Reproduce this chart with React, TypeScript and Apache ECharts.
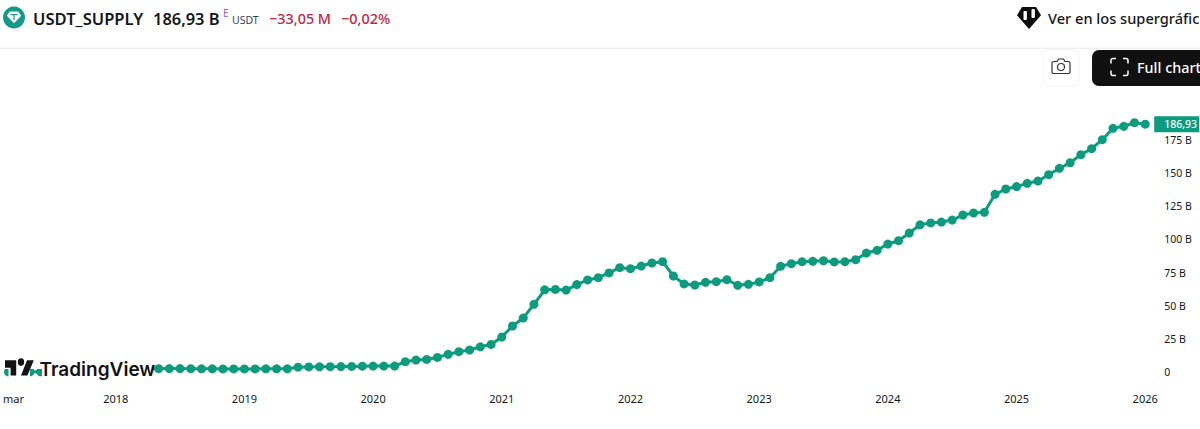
import React, { useEffect, useRef } from "react";
import * as echarts from "echarts";

const months: string[] = [];
const monthNames = ["ene", "feb", "mar", "abr", "may", "jun", "jul", "ago", "sep", "oct", "nov", "dic"];
for (let y = 2017, m = 2; y < 2026 || m === 0; ) {
  months.push(`${y}-${String(m + 1).padStart(2, "0")}`);
  m++;
  if (m === 12) { m = 0; y++; }
  if (y === 2026 && m === 1) break;
}

const supply2017to2018 = [0.05, 0.06, 0.1, 0.15, 0.3, 0.4, 0.44, 0.5, 0.7, 1.2, 1.6, 2.2, 2.3, 2.4];
const supply2018to2020 = [2.5, 2.6, 2.6, 2.5, 2.4, 2.4, 2.3, 2.3, 2.3, 2.3, 2.4, 2.4, 2.4, 3.6, 3.8, 3.9, 4.0, 4.1, 4.2, 4.4, 4.5];
const supply2020to2022 = [4.5, 4.5, 7.8, 9, 9.5, 11, 13.3, 15.3, 16.6, 19, 20.8, 26.4, 34.7, 40.7, 51, 62, 62.3, 61.8, 65.9, 69.4, 71.1, 74.7, 78.7, 77.9, 79.9, 82.2, 83.2];
const supply2022to2024 = [72.4, 66.4, 65.6, 67.6, 68.1, 69.6, 65.4, 66.1, 67.9, 71.1, 79.7, 81.7, 83.2, 83.5, 83.9, 83, 83.2, 84.7, 89.7, 91.8, 96.5, 99, 104.8];
const supply2024to2026 = [111, 112.4, 113.1, 114.6, 118.4, 119.9, 120.4, 134, 138, 139.8, 142.3, 144, 148.8, 153.6, 157.8, 163.9, 168.4, 175.2, 183.8, 185.3, 188, 186.93];
const supply = [...supply2017to2018, ...supply2018to2020, ...supply2020to2022, ...supply2022to2024, ...supply2024to2026];

const GREEN = "#0c9b7e";
const RED = "#c4263f";
const INK = "#131722";
const FONT = '"Noto Sans", sans-serif';

echarts.graphic.registerShape(
  "tvGlyph",
  echarts.graphic.extendPath("M14 6H0v8h7v8h7V6Zm14 16h-8l7.5-16H36l-8 16Z M24 8a4 4 0 1 1-8 0a4 4 0 1 1 8 0Z", {})
);
echarts.graphic.registerShape(
  "gem",
  echarts.graphic.extendPath("M5 0H19L24 7L12 19L0 7Z", {})
);
echarts.graphic.registerShape(
  "shield",
  echarts.graphic.extendPath("M5 0H19L24 7.5L12 20L0 7.5Z", {})
);
echarts.graphic.registerShape(
  "camera",
  echarts.graphic.extendPath("M2.5 3.5H6L7.5 1H12.5L14 3.5H17.5A1.5 1.5 0 0 1 19 5V14A1.5 1.5 0 0 1 17.5 15.5H2.5A1.5 1.5 0 0 1 1 14V5A1.5 1.5 0 0 1 2.5 3.5Z M13.5 9A3.5 3.5 0 1 1 6.5 9A3.5 3.5 0 1 1 13.5 9Z", {})
);
echarts.graphic.registerShape(
  "corners",
  echarts.graphic.extendPath("M6 1H3A2 2 0 0 0 1 3V6 M13 1H16A2 2 0 0 1 18 3V6 M18 13V16A2 2 0 0 1 16 18H13 M6 18H3A2 2 0 0 1 1 16V13", {})
);

const txt = (text: string, x: number, y: number, size: number, fill: string, weight: number | string = 500, extra: any = {}) => ({
  type: "text",
  z: 100,
  x,
  y,
  style: { text, fill, font: `${weight} ${size}px ${FONT}`, textVerticalAlign: "middle", ...extra },
});
const candle = (x: number, y: number, h: number) => ({ type: "rect", z: 102, shape: { x, y, width: 3.4, height: h, r: 1 }, style: { fill: "#ffffff" } });

export default function App() {
  const ref = useRef<HTMLDivElement>(null);
  useEffect(() => {
    document.body.style.margin = "0";
    document.documentElement.style.overflow = "hidden";
    const chart = echarts.init(ref.current!, undefined, { renderer: "svg" });
    chart.setOption({
      animation: false,
      backgroundColor: "#ffffff",
      grid: { left: 7.2, right: 1200 - 1145.2, top: 106.8, bottom: 57, containLabel: false },
      xAxis: {
        type: "category",
        data: months,
        boundaryGap: false,
        axisLine: { show: false },
        axisTick: { show: false },
        splitLine: { show: false },
        axisLabel: {
          margin: 21,
          fontFamily: FONT,
          fontSize: 11,
          color: INK,
          hideOverlap: false,
          showMinLabel: true,
          interval: (i: number, v: string) => i === 0 || v.endsWith("-01"),
          formatter: (v: string) => (v.endsWith("-01") ? v.slice(0, 4) : `{m|${monthNames[+v.slice(5) - 1]}}`),
          rich: { m: { padding: [0, 0, 0, 10], fontFamily: FONT, fontSize: 11, color: INK } },
        },
      },
      yAxis: {
        type: "value",
        position: "right",
        min: 0,
        max: 200,
        interval: 25,
        axisLine: { show: false },
        axisTick: { show: false },
        splitLine: { show: false },
        axisLabel: {
          margin: 19,
          fontFamily: FONT,
          fontSize: 10.5,
          color: INK,
          showMaxLabel: false,
          formatter: (v: number) => (v === 0 ? "0" : `${v} B`),
        },
      },
      series: [
        {
          type: "line",
          data: supply,
          showSymbol: true,
          showAllSymbol: true,
          symbol: "circle",
          symbolSize: 9,
          clip: false,
          lineStyle: { color: GREEN, width: 3 },
          itemStyle: { color: GREEN },
          emphasis: { disabled: true },
          endLabel: {
            show: true,
            distance: 9,
            formatter: () => "186,93",
            color: "#ffffff",
            fontFamily: FONT,
            fontSize: 10.5,
            fontWeight: 500,
            backgroundColor: GREEN,
            padding: [1, 1, 1, 10],
            width: 34,
            height: 14,
            lineHeight: 14,
            align: "left",
          },
        },
      ],
      graphic: {
        elements: [
          // chart-widget header
          { type: "rect", z: 100, shape: { x: 0, y: 47.5, width: 1200, height: 1.5 }, style: { fill: "#eeeff1" } },
          { type: "circle", z: 100, shape: { cx: 14, cy: 17.5, r: 11 }, style: { fill: "#119a8a" } },
          { type: "gem", z: 101, x: 6.8, y: 11.5, scaleX: 0.6, scaleY: 0.62, style: { fill: "#ffffff" } },
          { type: "rect", z: 102, shape: { x: 10.5, y: 14, width: 7, height: 1.2 }, style: { fill: "#119a8a" } },
          { type: "rect", z: 102, shape: { x: 13.4, y: 14, width: 1.2, height: 6 }, style: { fill: "#119a8a" } },
          txt("USDT_SUPPLY", 33, 18, 16.6, INK, 600),
          txt("186,93 B", 153, 18, 16.4, INK, 600),
          txt("E", 223, 13, 10, "#9c5fc8", 400),
          txt("USDT", 232, 20, 10.5, "#3b3f4a", 400),
          txt("−33,05 M", 269, 18, 14.4, RED, 500),
          txt("−0,02%", 341, 18, 14.4, RED, 500),
          { type: "shield", z: 100, x: 1017, y: 7, scaleX: 1, scaleY: 1.1, style: { fill: "#0d0d0d" } },
          candle(1023.5, 11, 9),
          candle(1031.5, 9, 9),
          txt("Ver en los supergráfic", 1048, 18, 14.6, INK, 500),
          // toolbar buttons
          { type: "rect", z: 100, shape: { x: 1043, y: 50, width: 36, height: 36, r: 6 }, style: { fill: "#ffffff", stroke: "#f3f3f3", lineWidth: 1 } },
          { type: "camera", z: 101, x: 1051, y: 58, style: { fill: "none", stroke: "#333333", lineWidth: 1.2 } },
          { type: "rect", z: 100, shape: { x: 1092, y: 50, width: 130, height: 36, r: 7 }, style: { fill: "#111111" } },
          { type: "corners", z: 101, x: 1110, y: 57.5, style: { fill: "none", stroke: "#ffffff", lineWidth: 1.5 } },
          txt("Full chart", 1137, 67, 14.4, "#ffffff", 500),
          // watermark
          { type: "rect", z: 100, shape: { x: 8.5, y: 358, width: 21.5, height: 22 }, style: { fill: "#ffffff" } },
          { type: "rect", z: 100, shape: { x: 42, y: 358, width: 111, height: 22 }, style: { fill: "#ffffff" } },
          { type: "rect", z: 100, shape: { x: 0, y: 358, width: 42, height: 11 }, style: { fill: "#ffffff" } },
          { type: "tvGlyph", z: 101, x: 5, y: 354.5, scaleX: 0.8, scaleY: 0.95, style: { fill: "#131313" } },
          txt("TradingView", 39.5, 369, 19, "#131313", 600, { font: "600 19px Inter, sans-serif" }),
        ],
      },
    });
    return () => chart.dispose();
  }, []);
  return <div ref={ref} style={{ position: "fixed", left: 0, top: 0, width: 1200, height: 429 }} />;
}
